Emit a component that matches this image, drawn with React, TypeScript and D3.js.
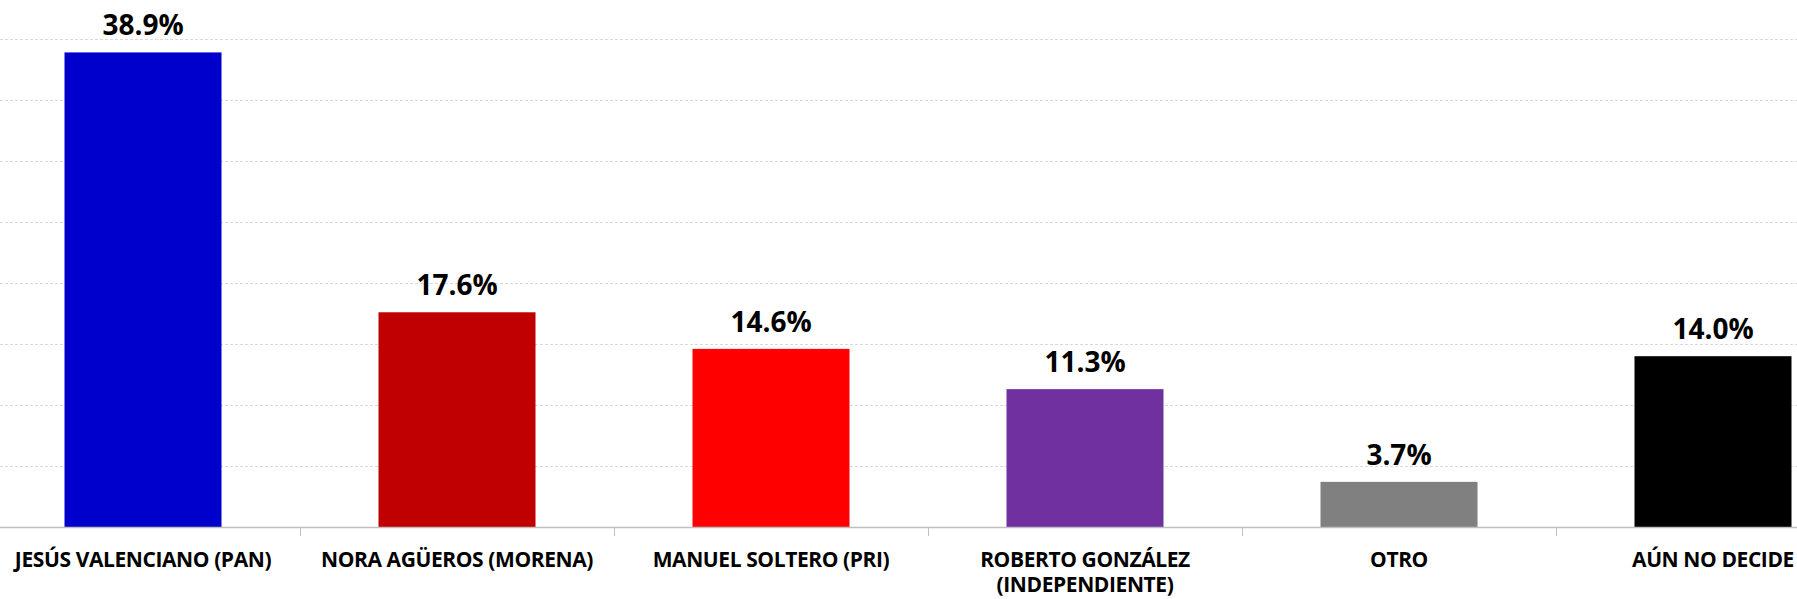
import React, { useEffect, useRef } from "react";
import * as d3 from "d3";

const categories: string[] = [
  "JESÚS VALENCIANO (PAN)",
  "NORA AGÜEROS (MORENA)",
  "MANUEL SOLTERO (PRI)",
  "ROBERTO GONZÁLEZ\n(INDEPENDIENTE)",
  "OTRO",
  "AÚN NO DECIDE",
];
const values: number[] = [38.9, 17.6, 14.6, 11.3, 3.7, 14.0];
const colors: string[] = ["#0000CC", "#C00000", "#FF0000", "#7030A0", "#808080", "#000000"];
const gridTicks: number[] = [5, 10, 15, 20, 25, 30, 35, 40];

const W = 1797;
const H = 599;

export default function App() {
  const ref = useRef<SVGSVGElement>(null);

  useEffect(() => {
    document.body.style.margin = "0";
    const svg = d3.select(ref.current);
    svg.selectAll("*").remove();

    const x = d3
      .scaleBand<string>()
      .domain(categories)
      .range([-14, -14 + 6 * 314])
      .paddingInner(0.5)
      .paddingOuter(0.25);
    const y = d3.scaleLinear().domain([0, 40]).range([527, 39]);

    // gridlines
    svg
      .append("g")
      .selectAll("line")
      .data(gridTicks)
      .join("line")
      .attr("x1", 0)
      .attr("x2", W)
      .attr("y1", (d) => Math.round(y(d)) + 0.5)
      .attr("y2", (d) => Math.round(y(d)) + 0.5)
      .attr("stroke", "#d9d9d9")
      .attr("stroke-width", 1)
      .attr("stroke-dasharray", "3,2");

    // bars
    svg
      .append("g")
      .selectAll("rect")
      .data(values)
      .join("rect")
      .attr("x", (_, i) => x(categories[i])!)
      .attr("width", x.bandwidth())
      .attr("y", (d) => y(d))
      .attr("height", (d) => y(0) - y(d))
      .attr("fill", (_, i) => colors[i]);

    // axis line
    svg
      .append("line")
      .attr("x1", 0)
      .attr("x2", W)
      .attr("y1", 527.5)
      .attr("y2", 527.5)
      .attr("stroke", "#bfbfbf")
      .attr("stroke-width", 1.5);

    // tick marks at band boundaries
    const step = x.step();
    const bounds = categories.slice(1).map((c) => x(c)! - (step - x.bandwidth()) / 2);
    svg
      .append("g")
      .selectAll("line")
      .data(bounds)
      .join("line")
      .attr("x1", (d) => Math.round(d) + 0.5)
      .attr("x2", (d) => Math.round(d) + 0.5)
      .attr("y1", 527)
      .attr("y2", 536)
      .attr("stroke", "#bfbfbf")
      .attr("stroke-width", 1);

    // value labels
    svg
      .append("g")
      .selectAll("text")
      .data(values)
      .join("text")
      .attr("x", (_, i) => x(categories[i])! + x.bandwidth() / 2)
      .attr("y", (d) => y(d) - 17)
      .attr("text-anchor", "middle")
      .attr("font-family", "'Open Sans', sans-serif")
      .attr("font-weight", 700)
      .attr("font-size", 28)
      .attr("fill", "#000")
      .text((d) => d.toFixed(1) + "%");

    // category labels
    const lab = svg
      .append("g")
      .selectAll("text")
      .data(categories)
      .join("text")
      .attr("x", (c) => x(c)! + x.bandwidth() / 2)
      .attr("y", 567)
      .attr("text-anchor", "middle")
      .attr("font-family", "'Open Sans', sans-serif")
      .attr("font-weight", 700)
      .attr("font-size", 21)
      .attr("letter-spacing", -0.4)
      .attr("fill", "#000");
    lab.each(function (c) {
      const lines = c.split("\n");
      const t = d3.select(this);
      lines.forEach((ln, k) => {
        t.append("tspan")
          .attr("x", x(c)! + x.bandwidth() / 2)
          .attr("dy", k === 0 ? 0 : 25)
          .text(ln);
      });
    });
  }, []);

  return (
    <svg
      ref={ref}
      width={W}
      height={H}
      style={{ display: "block", position: "absolute", left: 0, top: 0, background: "#fff" }}
    />
  );
}
